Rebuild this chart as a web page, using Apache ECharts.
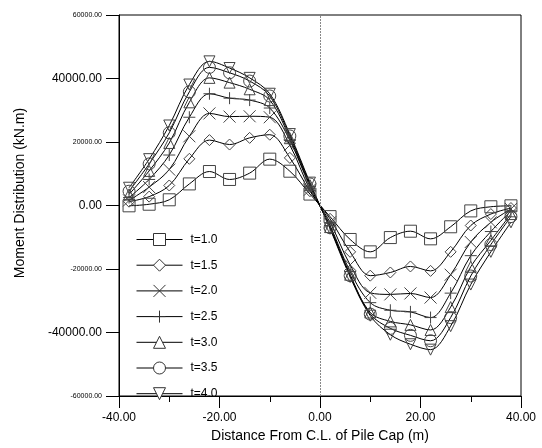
<!DOCTYPE html>
<html>
<head>
<meta charset="utf-8">
<script src="https://cdn.jsdelivr.net/npm/echarts@6/dist/echarts.min.js"></script>
<style>
	html,body{margin:0;padding:0;background:#fff;}
	#main{width:542px;height:448px;}
</style>
</head>
<body>
<div id="main"></div>
<script type="text/javascript">
// distance from C.L. of pile cap (m)
var distance = [-38, -34, -30, -26, -22, -18, -14, -10, -6, -2, 2, 6, 10, 14, 18, 22, 26, 30, 34, 38];
var seriesNames = ['t=1.0', 't=1.5', 't=2.0', 't=2.5', 't=3.0', 't=3.5', 't=4.0'];
var t10 = [-100, 400, 1800, 6800, 10700, 8200, 10200, 14600, 10800, 3600, -3500, -10700, -14600, -10100, -8100, -10500, -6700, -1700, -400, -100];
var t15 = [1200, 2800, 6300, 14700, 20600, 19200, 21300, 22300, 15000, 4500, -4200, -14600, -22100, -21100, -19200, -20600, -14600, -6300, -2700, -800];
var t20 = [1600, 5800, 11300, 21800, 29000, 28000, 28100, 27800, 19000, 5000, -5300, -18700, -27500, -28000, -27700, -29000, -21800, -11500, -5300, -1100];
var t25 = [2500, 8200, 15900, 27800, 35200, 33800, 33200, 30700, 20500, 6000, -6300, -20800, -30600, -33000, -33500, -35300, -27600, -15800, -8200, -1700];
var t30 = [3500, 10900, 19700, 32500, 40200, 38700, 36600, 33200, 21200, 6400, -6800, -21800, -33700, -36500, -37600, -39200, -32000, -19300, -11000, -2700];
var t35 = [4500, 13100, 22900, 35800, 43500, 41800, 39200, 34500, 21900, 6800, -7000, -22100, -34200, -38700, -40900, -42600, -35300, -22200, -12300, -3500];
var t40 = [5600, 14600, 25200, 38100, 45400, 43300, 40200, 35200, 22500, 7200, -7300, -22500, -34700, -40700, -43700, -45400, -38000, -24900, -14600, -5300];
var yBigTicks = [40000, 0, -40000];

var allData = [t10, t15, t20, t25, t30, t35, t40];
var symbols = ['rect', 'diamond', 'path://M0 0 L10 10 M10 0 L0 10', 'path://M5 0 L5 10 M0 5 L10 5', 'triangle', 'circle', 'triangle'];
var sizes = [12, 11, 12, 12, 11, 12, 11];
var rotates = [0, 0, 0, 0, 0, 0, 180];

function pairs(arr){
	var out = [];
	for (var i = 0; i < arr.length; i++) {
		out.push([distance[i], arr[i]]);
	}
	return out;
}

var series = [];
for (var k = 0; k < allData.length; k++) {
	series.push({
		name: seriesNames[k],
		type: 'line',
		data: pairs(allData[k]),
		smooth: 0.35,
		symbol: symbols[k],
		symbolSize: sizes[k],
		symbolRotate: rotates[k],
		showAllSymbol: true,
		lineStyle: {color: '#000', width: 1},
		itemStyle: {color: 'rgba(0,0,0,0)', borderColor: '#444', borderWidth: 1},
		emphasis: {disabled: true},
		z: 3
	});
}
// dotted centre line
series[0].markLine = {
	silent: true,
	symbol: 'none',
	label: {show: false},
	lineStyle: {color: '#888', type: [2, 1], width: 1},
	data: [{xAxis: 0}]
};

var myChart = echarts.init(document.getElementById('main'));
var option = {
	animation: false,
	backgroundColor: '#fff',
	grid: {left: 119, right: 21, top: 15, bottom: 47, show: true, borderColor: '#000', borderWidth: 1},
	legend: {
		orient: 'vertical',
		left: 131,
		top: 228,
		itemWidth: 46,
		itemHeight: 15,
		itemGap: 12.7,
		data: seriesNames,
		itemStyle: {color: '#fff', borderColor: '#333', borderWidth: 1},
		lineStyle: {color: '#000', width: 1},
		textStyle: {fontFamily: 'Liberation Sans', fontSize: 12, color: '#000', padding: [0, 0, 0, 3]}
	},
	xAxis: {
		type: 'value',
		min: -40,
		max: 40,
		interval: 20,
		name: 'Distance From C.L. of Pile Cap (m)',
		nameLocation: 'middle',
		nameGap: 33,
		nameTextStyle: {fontFamily: 'Liberation Sans', fontSize: 14, color: '#000'},
		axisLine: {onZero: false, lineStyle: {color: '#000'}},
		axisTick: {inside: false, length: 12, lineStyle: {color: '#000'}},
		minorTick: {show: true, splitNumber: 2, length: 6, lineStyle: {color: '#000'}},
		splitLine: {show: false},
		axisLabel: {
			margin: 16,
			fontFamily: 'Liberation Sans',
			fontSize: 12,
			color: '#000',
			formatter: function(v){ return v.toFixed(2); }
		}
	},
	yAxis: {
		type: 'value',
		min: -60000,
		max: 60000,
		interval: 20000,
		axisLine: {onZero: false, lineStyle: {color: '#000'}},
		axisTick: {inside: false, length: 13, lineStyle: {color: '#000'}},
		splitLine: {show: false},
		axisLabel: {
			margin: 17,
			fontFamily: 'Liberation Sans',
			color: '#000',
			formatter: function(v){
				var s = v.toFixed(2);
				return yBigTicks.indexOf(v) >= 0 ? '{big|' + s + '}' : '{small|' + s + '}';
			},
			rich: {
				big: {fontSize: 12, fontFamily: 'Liberation Sans', color: '#000'},
				small: {fontSize: 7, fontFamily: 'Liberation Sans', color: '#000'}
			}
		}
	},
	graphic: [{
		type: 'text',
		x: 20,
		y: 193,
		rotation: Math.PI / 2,
		style: {
			text: 'Moment Distribution (kN.m)',
			fontFamily: 'Liberation Sans',
			fontSize: 14,
			fill: '#000',
			align: 'center',
			verticalAlign: 'middle'
		}
	}],
	series: series
};
myChart.setOption(option);
</script>
</body>
</html>
